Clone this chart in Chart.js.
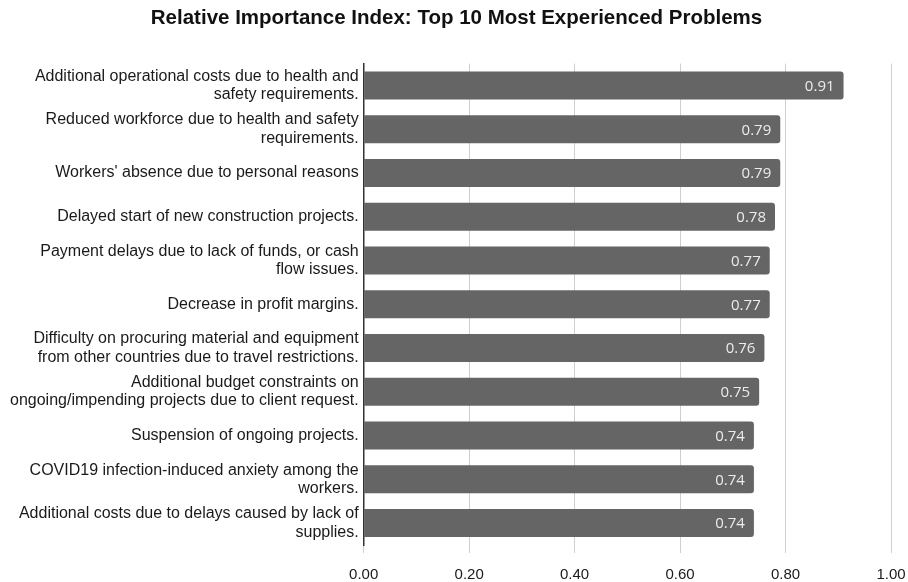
<!DOCTYPE html>
<html>
<head>
<meta charset="utf-8">
<script src="https://cdn.jsdelivr.net/npm/chart.js@4/dist/chart.umd.min.js"></script>
<style>
  html, body { margin: 0; padding: 0; background: #ffffff; }
  #wrap { width: 908px; height: 582px; }
</style>
</head>
<body>
<div id="wrap"><canvas id="chart" width="908" height="582"></canvas></div>
<script>
// Problems ranked by Relative Importance Index (RII)
const problems = [
  ["Additional operational costs due to health and", "safety requirements."],
  ["Reduced workforce due to health and safety", "requirements."],
  "Workers' absence due to personal reasons",
  "Delayed start of new construction projects.",
  ["Payment delays due to lack of funds, or cash", "flow issues."],
  "Decrease in profit margins.",
  ["Difficulty on procuring material and equipment", "from other countries due to travel restrictions."],
  ["Additional budget constraints on", "ongoing/impending projects due to client request."],
  "Suspension of ongoing projects.",
  ["COVID19 infection-induced anxiety among the", "workers."],
  ["Additional costs due to delays caused by lack of", "supplies."]
];
const riiValues = [0.91, 0.79, 0.79, 0.78, 0.77, 0.77, 0.76, 0.75, 0.74, 0.74, 0.74];
const xTicks = [0, 0.2, 0.4, 0.6, 0.8, 1.0];

// Writes each bar's value just inside its right end
const valueLabels = {
  id: 'valueLabels',
  afterDatasetsDraw(chart) {
    const ctx = chart.ctx;
    const meta = chart.getDatasetMeta(0);
    ctx.save();
    ctx.font = '15px "Open Sans", "Noto Sans", sans-serif';
    ctx.fillStyle = '#ececec';
    ctx.textAlign = 'right';
    ctx.textBaseline = 'middle';
    meta.data.forEach((bar, i) => {
      const v = chart.data.datasets[0].data[i];
      ctx.fillText(v.toFixed(2), bar.x - 9, bar.y + 1);
    });
    ctx.restore();
  }
};

new Chart(document.getElementById('chart'), {
  type: 'bar',
  data: {
    labels: problems,
    datasets: [{
      data: riiValues,
      backgroundColor: '#656565',
      borderWidth: 0,
      borderRadius: 3,
      borderSkipped: 'start',
      barPercentage: 0.64,
      categoryPercentage: 1.0
    }]
  },
  options: {
    indexAxis: 'y',
    responsive: false,
    animation: false,
    layout: { padding: { left: 5, right: 0, top: 0, bottom: -15 } },
    plugins: {
      legend: { display: false },
      tooltip: { enabled: false },
      title: {
        display: true,
        text: 'Relative Importance Index: Top 10 Most Experienced Problems',
        color: '#111111',
        font: { family: '"Liberation Sans", Arial, sans-serif', size: 20.5, weight: 'bold' },
        padding: { top: 6, bottom: 33 }
      }
    },
    scales: {
      x: {
        min: 0,
        max: 1,
        afterBuildTicks(axis) {
          axis.ticks = xTicks.map(v => ({ value: v }));
        },
        afterFit(axis) {
          // room for half of the last tick label past the plot edge
          axis.paddingRight = 17;
        },
        ticks: {
          color: '#1a1a1a',
          font: { family: '"Liberation Sans", Arial, sans-serif', size: 15 },
          padding: 13,
          callback: v => Number(v).toFixed(2)
        },
        grid: {
          color: '#cfcfcf',
          lineWidth: 1,
          tickLength: 8,
          drawTicks: true
        },
        border: { display: false }
      },
      y: {
        ticks: {
          color: '#1a1a1a',
          font: { family: '"Liberation Sans", Arial, sans-serif', size: 16, lineHeight: 1.15 },
          padding: 5,
          autoSkip: false
        },
        grid: { display: false, drawTicks: false },
        border: { display: true, color: '#333333', width: 1.5 }
      }
    }
  },
  plugins: [valueLabels]
});
</script>
</body>
</html>
